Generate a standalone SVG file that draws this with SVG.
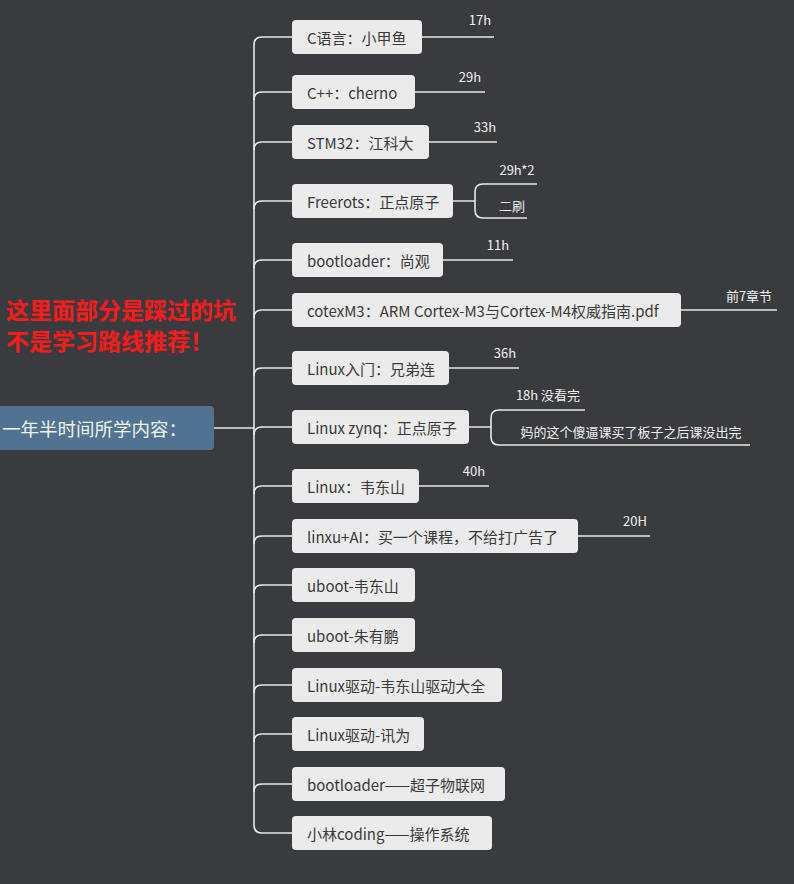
<svg xmlns="http://www.w3.org/2000/svg" width="794" height="884" viewBox="0 0 794 884">
<style>
.n rect{fill:#ebebeb;}
.n text{fill:#3a3a3a;font-family:"Noto Sans CJK SC",sans-serif;font-size:15px;dominant-baseline:central;}
.c path{fill:none;stroke:#e8e8e8;stroke-width:1.6;}
.l{fill:#f0f0f0;font-family:"Noto Sans CJK SC",sans-serif;font-size:13px;text-anchor:middle;}
.w{fill:#ff1a1a;font-family:"Noto Sans CJK SC",sans-serif;font-size:23px;font-weight:bold;}
</style>
<rect width="794" height="884" fill="#3a3b3f"/>
<g class="c">
<path d="M214 428H254"/>
<path d="M292 37H262Q254 37 254 45V825Q254 833 262 833H292"/>
<path d="M254 100Q254 92 262 92H292M254 150Q254 142 262 142H292M254 209Q254 201 262 201H292M254 268Q254 260 262 260H292M254 318Q254 310 262 310H292M254 376Q254 368 262 368H292M254 435Q254 427 262 427H292M254 494Q254 486 262 486H292M254 544Q254 536 262 536H292M254 593Q254 585 262 585H292M254 643Q254 635 262 635H292M254 693Q254 685 262 685H292M254 742Q254 734 262 734H292M254 792Q254 784 262 784H292"/>
<path d="M422 37H494M415 92H485M429 142H497M443 260H513M681 310H777M449 368H519M419 486H489M578 536H650"/>
<path d="M453 201H475M537 184H483Q475 184 475 192V210Q475 218 483 218H527"/>
<path d="M469 427H491M585 410H499Q491 410 491 418V437Q491 445 499 445H750"/>
</g>
<g id="root"><rect x="-6" y="406" width="220" height="44" rx="4" fill="#4f7390"/><text x="2" y="428" fill="#f2f2f2" font-family="Noto Sans CJK SC,sans-serif" font-size="18.5" dominant-baseline="central">一年半时间所学内容：</text></g>
<g id="n1" class="n"><rect x="292" y="20" width="130" height="34" rx="4"/><text x="307" y="37">C语言：小甲鱼</text></g>
<g id="n2" class="n"><rect x="292" y="75" width="123" height="34" rx="4"/><text x="307" y="92">C++：cherno</text></g>
<g id="n3" class="n"><rect x="292" y="125" width="137" height="34" rx="4"/><text x="307" y="142">STM32：江科大</text></g>
<g id="n4" class="n"><rect x="292" y="184" width="161" height="34" rx="4"/><text x="307" y="201">Freerots：正点原子</text></g>
<g id="n5" class="n"><rect x="292" y="243" width="151" height="34" rx="4"/><text x="307" y="260">bootloader：尚观</text></g>
<g id="n6" class="n"><rect x="292" y="293" width="389" height="34" rx="4"/><text x="307" y="310">cotexM3：ARM Cortex-M3与Cortex-M4权威指南.pdf</text></g>
<g id="n7" class="n"><rect x="292" y="351" width="157" height="34" rx="4"/><text x="307" y="368">Linux入门：兄弟连</text></g>
<g id="n8" class="n"><rect x="292" y="410" width="177" height="34" rx="4"/><text x="307" y="427">Linux zynq：正点原子</text></g>
<g id="n9" class="n"><rect x="292" y="469" width="127" height="34" rx="4"/><text x="307" y="486">Linux：韦东山</text></g>
<g id="n10" class="n"><rect x="292" y="519" width="286" height="34" rx="4"/><text x="307" y="536">linxu+AI：买一个课程，不给打广告了</text></g>
<g id="n11" class="n"><rect x="292" y="568" width="123" height="34" rx="4"/><text x="307" y="585">uboot-韦东山</text></g>
<g id="n12" class="n"><rect x="292" y="618" width="123" height="34" rx="4"/><text x="307" y="635">uboot-朱有鹏</text></g>
<g id="n13" class="n"><rect x="292" y="668" width="210" height="34" rx="4"/><text x="307" y="685">Linux驱动-韦东山驱动大全</text></g>
<g id="n14" class="n"><rect x="292" y="717" width="132" height="34" rx="4"/><text x="307" y="734">Linux驱动-讯为</text></g>
<g id="n15" class="n"><rect x="292" y="767" width="213" height="34" rx="4"/><text x="307" y="784">bootloader——超子物联网</text></g>
<g id="n16" class="n"><rect x="292" y="816" width="200" height="34" rx="4"/><text x="307" y="833">小林coding——操作系统</text></g>
<g id="labels">
<text class="l" x="480" y="25">17h</text>
<text class="l" x="470" y="82">29h</text>
<text class="l" x="485" y="132">33h</text>
<text class="l" x="517" y="175">29h*2</text>
<text class="l" x="512" y="211">二刷</text>
<text class="l" x="498" y="250">11h</text>
<text class="l" x="749" y="301">前7章节</text>
<text class="l" x="505" y="358">36h</text>
<text class="l" x="548" y="400">18h 没看完</text>
<text class="l" x="631" y="437">妈的这个傻逼课买了板子之后课没出完</text>
<text class="l" x="474" y="476">40h</text>
<text class="l" x="635" y="526">20H</text>
</g>
<text class="w" x="6" y="319">这里面部分是踩过的坑</text>
<text class="w" x="6" y="350">不是学习路线推荐！</text>
</svg>
